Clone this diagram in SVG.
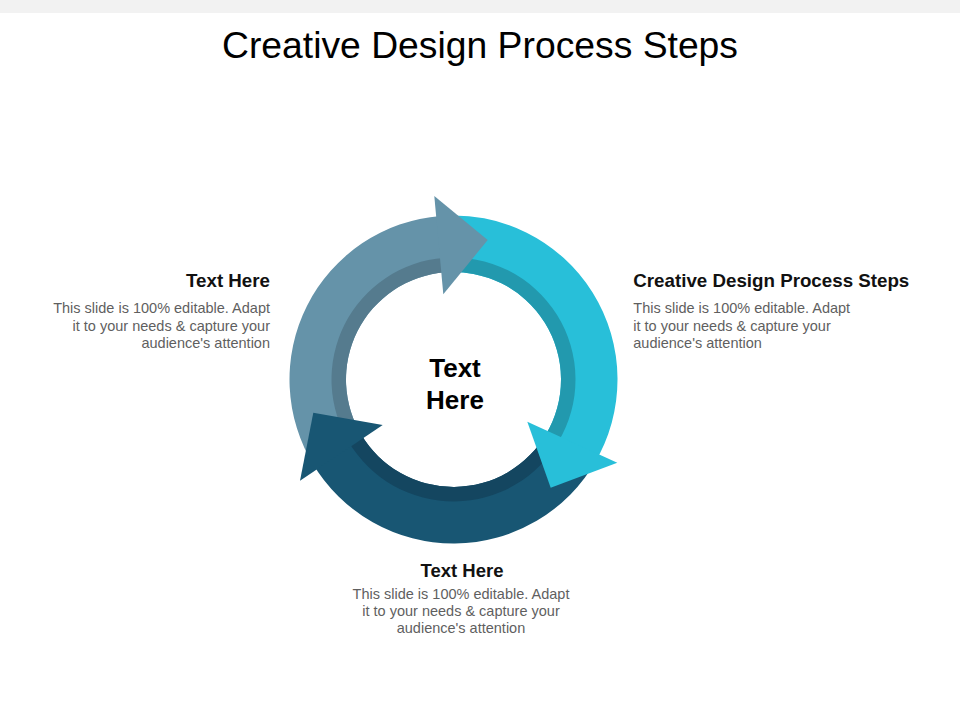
<svg xmlns="http://www.w3.org/2000/svg" width="960" height="720" viewBox="0 0 960 720">
<style>
.t{font-family:"Liberation Sans",Arial,sans-serif;fill:#000}
.h{font-family:"Liberation Sans",Arial,sans-serif;font-weight:bold;font-size:18.5px;fill:#111}
.b{font-family:"Liberation Sans",Arial,sans-serif;font-size:14.5px;fill:#5f5f5f}
.c{font-family:"Liberation Sans",Arial,sans-serif;font-weight:bold;font-size:26px;fill:#000;text-anchor:middle}
</style>
<rect x="0" y="0" width="960" height="720" fill="#ffffff"/>
<rect x="0" y="0" width="960" height="13" fill="#f2f2f2"/>
<text class="t" x="480" y="58" font-size="37" text-anchor="middle" textLength="516" lengthAdjust="spacingAndGlyphs">Creative Design Process Steps</text>

<g id="connectors">
  <!-- ring bodies -->
  <g id="ring-gray">
    <path d="M314.42,466.41 A164,164 0 0 1 440.63,216.01 L445.07,272.33 A107.5,107.5 0 0 0 362.33,436.47 Z" fill="#6593a9"/>
    <path d="M350.04,444.15 A122,122 0 0 1 443.93,257.88 L445.07,272.33 A107.5,107.5 0 0 0 362.33,436.47 Z" fill="#557b8e"/>
  </g>
  <g id="ring-cyan">
    <path d="M439.21,216.12 A164,164 0 0 1 594.08,463.97 L545.65,434.87 A107.5,107.5 0 0 0 444.13,272.41 Z" fill="#28bfd9"/>
    <path d="M442.87,257.96 A122,122 0 0 1 558.07,442.33 L545.65,434.87 A107.5,107.5 0 0 0 444.13,272.41 Z" fill="#2299ae"/>
  </g>
  <g id="ring-dark">
    <path d="M596.24,460.26 A164,164 0 0 1 312.19,462.74 L360.87,434.06 A107.5,107.5 0 0 0 547.06,432.44 Z" fill="#185673"/>
    <path d="M559.68,439.58 A122,122 0 0 1 348.38,441.42 L360.87,434.06 A107.5,107.5 0 0 0 547.06,432.44 Z" fill="#144660"/>
  </g>
  <!-- arrowheads -->
  <polygon id="head-gray" points="434.3,196 487.7,240 443.3,294.3" fill="#6593a9"/>
  <polygon id="head-cyan" points="617.3,462.7 550.7,487.7 527.3,421.7" fill="#28bfd9"/>
  <polygon id="head-dark" points="300,480.7 313.3,412.7 382.7,425" fill="#185673"/>
</g>

<g id="center">
  <text class="c" x="455" y="377">Text</text>
  <text class="c" x="455" y="408.5">Here</text>
</g>

<g id="node-left">
  <text class="h" x="270" y="286.7" text-anchor="end" textLength="84" lengthAdjust="spacingAndGlyphs">Text Here</text>
  <text class="b" x="270" y="313.3" text-anchor="end">This slide is 100% editable.  Adapt</text>
  <text class="b" x="270" y="330.7" text-anchor="end">it to your needs &amp; capture your</text>
  <text class="b" x="270" y="348" text-anchor="end">audience's attention</text>
</g>

<g id="node-right">
  <text class="h" x="633.3" y="286.7" textLength="276" lengthAdjust="spacingAndGlyphs">Creative Design Process Steps</text>
  <text class="b" x="633.3" y="313.3">This slide is 100% editable.  Adapt</text>
  <text class="b" x="633.3" y="330.5">it to your needs &amp; capture your</text>
  <text class="b" x="633.3" y="347.5">audience's attention</text>
</g>

<g id="node-bottom">
  <text class="h" x="462" y="577.3" text-anchor="middle" textLength="83" lengthAdjust="spacingAndGlyphs">Text Here</text>
  <text class="b" x="461" y="598.5" text-anchor="middle">This slide is 100% editable.  Adapt</text>
  <text class="b" x="461" y="615.8" text-anchor="middle">it to your needs &amp; capture your</text>
  <text class="b" x="461" y="632.8" text-anchor="middle">audience's attention</text>
</g>
</svg>
